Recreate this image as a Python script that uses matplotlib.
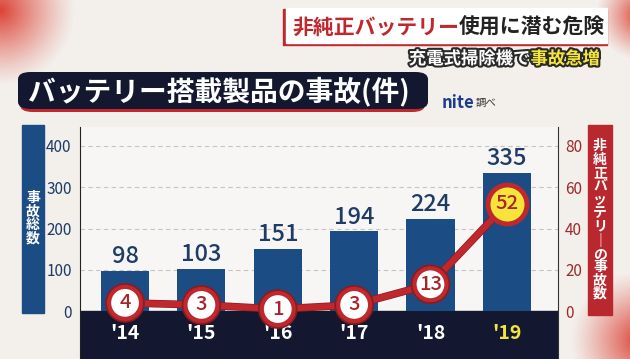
import numpy as np
import matplotlib.pyplot as plt
import matplotlib.patheffects as pe
from matplotlib.patches import Rectangle, FancyBboxPatch

plt.rcParams['font.family'] = ['Noto Sans CJK JP', 'DejaVu Sans']

# Données (nite調べ)
annees = ["'14", "'15", "'16", "'17", "'18", "'19"]
total_accidents = [98, 103, 151, 194, 224, 335]
accidents_non_officiels = [4, 3, 1, 3, 13, 52]
ticks_gauche = [0, 100, 200, 300, 400]
ticks_droite = [0, 20, 40, 60, 80]

W, H = 630, 359
NAVY = '#1c4c84'
DARK = '#131830'
RED = '#c0282d'

fig = plt.figure(figsize=(W / 100, H / 100), dpi=100, facecolor='#f3efeb')


def rect(x0, y0, x1, y1, **kw):
    # coordonnees en pixels (origine en haut a gauche)
    return Rectangle((x0 / W, 1 - y1 / H), (x1 - x0) / W, (y1 - y0) / H,
                     transform=fig.transFigure, **kw)


def ftext(x, y, s, **kw):
    return fig.text(x / W, 1 - y / H, s, **kw)


# fond avec taches rouges degradees (decor)
bg = fig.add_axes([0, 0, 1, 1], zorder=-10)
yy, xx = np.mgrid[0:H, 0:W]
alpha = np.zeros((H, W))
for cx, cy, r in [(0, 10, 75), (640, 15, 45), (640, 340, 70)]:
    d = np.hypot(xx - cx, yy - cy) / r
    alpha = np.maximum(alpha, np.clip(1 - d, 0, 1) ** 1.2)
img = np.zeros((H, W, 4))
img[..., 0] = 0.86
img[..., 1] = 0.22
img[..., 2] = 0.17
img[..., 3] = alpha * 0.95
bg.imshow(img, extent=(0, W, H, 0), aspect='auto')
bg.axis('off')

# axes principal
ax = fig.add_axes([80 / W, 0, (558 - 80) / W, (H - 127) / H])
ax.set_facecolor('#f8f6f4')
x = list(range(len(annees)))
ax.set_xlim(-0.59, 5.67)
ax.set_ylim(-116, 446)
ax.axhspan(-116, 0, color=DARK, zorder=1)
for t in ticks_gauche[1:]:
    ax.axhline(t, color='#c8c4c0', lw=0.8, ls=(0, (4, 3)), zorder=0)
ax.bar(x, total_accidents, width=0.63, color=NAVY, zorder=2)
for i, v in enumerate(total_accidents):
    ax.text(i, v + 6, str(v), ha='center', va='bottom', fontsize=17,
            color='#1d3c66', fontweight='medium', zorder=3)
for i, a in enumerate(annees):
    ax.text(i, -55, a, ha='center', va='center', fontsize=14, fontweight='bold',
            color='#f2e440' if i == len(annees) - 1 else 'white', zorder=3)
ax.set_xticks([])
ax.set_yticks(ticks_gauche)
ax.set_yticklabels([str(t) for t in ticks_gauche])
ax.tick_params(axis='y', length=0, pad=6, labelsize=11, labelcolor='#1d3c66')
for s in ['top', 'bottom', 'right']:
    ax.spines[s].set_visible(False)
ax.spines['left'].set_color('#222222')

# axe secondaire
ax2 = ax.twinx()
ax2.set_ylim(-116 / 5, 446 / 5)
ax2.plot(x, accidents_non_officiels, color=RED, lw=4.5, marker='o', ms=23,
         mfc='white', mec=RED, mew=3, zorder=4, clip_on=False,
         path_effects=[pe.Stroke(linewidth=5.5, foreground='#8a1c20'), pe.Normal()])
ax2.plot(x[-1], accidents_non_officiels[-1], marker='o', ms=28, mfc='#f7e43a',
         mec=RED, mew=3.5, zorder=5, clip_on=False)
for i, v in enumerate(accidents_non_officiels):
    ax2.text(i, v, str(v), ha='center', va='center', fontsize=14.5,
             color='#a8262b', fontweight='medium', zorder=6)
ax2.set_yticks(ticks_droite)
ax2.tick_params(axis='y', length=0, pad=5, labelsize=11, labelcolor='#9c2a2e')
for s in ['top', 'bottom', 'left']:
    ax2.spines[s].set_visible(False)
ax2.spines['right'].set_color('#333333')

# etiquettes verticales des axes
fig.patches.append(rect(22, 125, 44, 313, color=NAVY))
ftext(33, 218, "\n".join("事故総数"), ha='center', va='center', fontsize=10,
      color='white', fontweight='bold', linespacing=0.95)
fig.patches.append(rect(588, 125, 612, 315, color='#b8282e'))
ftext(600, 220, "\n".join("非純正バッテリ｜の事故数"), ha='center', va='center',
      fontsize=10, color='white', fontweight='bold', linespacing=0.95)

# titre principal
fig.patches.append(FancyBboxPatch((20 / W, 1 - 112 / H), 405 / W, 37 / H,
                                  boxstyle='round,pad=0,rounding_size=0.02',
                                  transform=fig.transFigure, color=RED, lw=0))
fig.patches.append(FancyBboxPatch((18 / W, 1 - 109 / H), 410 / W, 37 / H,
                                  boxstyle='round,pad=0,rounding_size=0.02',
                                  transform=fig.transFigure, color=DARK, lw=0))
ftext(28, 91, "バッテリー搭載製品の事故(件)", ha='left', va='center', fontsize=20,
      color='white', fontweight='bold')
ftext(442, 103, "nite", ha='left', va='center', fontsize=12, color='#1d3c8a',
      fontweight='bold')
ftext(476, 103, "調べ", ha='left', va='center', fontsize=7.5, color='#333333')

# bandeau en haut a droite
fig.patches.append(rect(283, 9, 607, 45, color=RED))
fig.patches.append(rect(286, 8, 607, 43, color='white'))
renderer = fig.canvas.get_renderer()
t1 = ftext(292, 27, "非純正バッテリー", ha='left', va='center', fontsize=15,
           color=RED, fontweight='bold')
bb = t1.get_window_extent(renderer)
fig.text(bb.x1 / fig.bbox.width, 1 - 27 / H, "使用に潜む危険", ha='left',
         va='center', fontsize=15, color='#222222', fontweight='bold')

contour = [pe.Stroke(linewidth=3, foreground='#2a2a2a'), pe.Normal()]
t3 = ftext(600, 59, "事故急増", ha='right', va='center', fontsize=12.5,
           color='#f5e63c', fontweight='bold', path_effects=contour)
bb = t3.get_window_extent(renderer)
fig.text(bb.x0 / fig.bbox.width, 1 - 59 / H, "充電式掃除機で", ha='right',
         va='center', fontsize=12.5, color='white', fontweight='bold',
         path_effects=contour)

fig.savefig('out.png', dpi=100)
